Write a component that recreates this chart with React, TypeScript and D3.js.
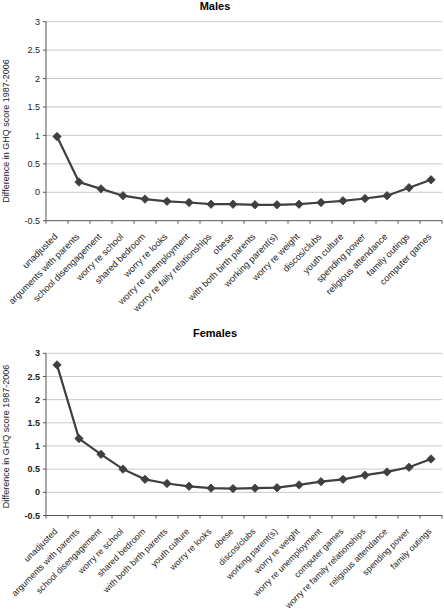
import React from "react";
import * as d3 from "d3";

const maleCategories = [
  "unadjusted", "arguments with parents", "school disengagement", "worry re school",
  "shared bedroom", "worry re looks", "worry re unemployment", "worry re faily relationships",
  "obese", "with both birth parents", "working parent(s)", "worry re weight",
  "discos/clubs", "youth culture", "spending power", "religious attendance",
  "family outings", "computer games",
];
const maleValues = [0.98, 0.18, 0.06, -0.06, -0.12, -0.16, -0.18, -0.21, -0.21, -0.22, -0.22, -0.21, -0.18, -0.15, -0.11, -0.06, 0.08, 0.22];

const femaleCategories = [
  "unadjusted", "arguments with parents", "school disengagement", "worry re school",
  "shared bedroom", "with both birth parents", "youth culture", "worry re looks",
  "obese", "discos/clubs", "working parent(s)", "worry re weight",
  "worry re unemployment", "computer games", "worry re family relationships",
  "religious attendance", "spending power", "family outings",
];
const femaleValues = [2.75, 1.16, 0.82, 0.5, 0.28, 0.19, 0.13, 0.09, 0.08, 0.09, 0.1, 0.16, 0.23, 0.28, 0.37, 0.44, 0.54, 0.72];

const yTicks = [-0.5, 0, 0.5, 1, 1.5, 2, 2.5, 3];
const yTitle = "Difference in GHQ score 1987-2006";

const FONT = "'Liberation Sans', Arial, sans-serif";

type PanelProps = {
  title: string;
  categories: string[];
  values: number[];
  top: number;
  bottom: number;
  titleY: number;
  yTitleCenter: number;
  boldTicks: boolean;
  labelSize: number;
};

function Panel({ title, categories, values, top, bottom, titleY, yTitleCenter, boldTicks, labelSize }: PanelProps) {
  const left = 46;
  const right = 442;
  const x = d3.scaleBand<string>().domain(categories).range([left, right]).padding(0);
  const y = d3.scaleLinear().domain([-0.5, 3]).range([bottom, top]);
  const pts = categories.map((c, i) => [x(c)! + x.bandwidth() / 2, y(values[i])] as [number, number]);
  const line = d3.line<[number, number]>()(pts) || "";
  const r = 4.2;
  const boundaries = categories.map((c) => x(c)!).concat([right]);
  return (
    <g>
      <text x={215} y={titleY} textAnchor="middle" fontFamily={FONT} fontWeight="bold" fontSize={11} fill="#000">
        {title}
      </text>
      {yTicks.map((t) => (
        <g key={t}>
          {t !== -0.5 && (
            <line x1={left} x2={right} y1={y(t)} y2={y(t)} stroke="#c8c8c8" strokeWidth={1} />
          )}
          <line x1={left - 3} x2={left} y1={y(t)} y2={y(t)} stroke="#555" strokeWidth={1} />
          <text
            x={left - 6}
            y={y(t)}
            dy="0.35em"
            textAnchor="end"
            fontFamily={FONT}
            fontSize={9}
            fontWeight={boldTicks ? "bold" : "normal"}
            fill="#222"
          >
            {t}
          </text>
        </g>
      ))}
      <line x1={left} x2={left} y1={top} y2={bottom} stroke="#555" strokeWidth={1} />
      <line x1={left} x2={right} y1={bottom} y2={bottom} stroke="#555" strokeWidth={1} />
      {boundaries.map((b, i) => (
        <line key={i} x1={b} x2={b} y1={bottom} y2={bottom + 3} stroke="#555" strokeWidth={1} />
      ))}
      {categories.map((c) => {
        const cx = x(c)! + x.bandwidth() / 2 + 1;
        const cy = bottom + 16.5;
        return (
          <text
            key={c}
            transform={`translate(${cx},${cy}) rotate(-45)`}
            textAnchor="end"
            fontFamily={FONT}
            fontSize={labelSize}
            fill="#222"
          >
            {c}
          </text>
        );
      })}
      <text
        transform={`translate(9,${yTitleCenter}) rotate(-90)`}
        textAnchor="middle"
        fontFamily={FONT}
        fontSize={9}
        fill="#222"
      >
        {yTitle}
      </text>
      <path d={line} fill="none" stroke="#3f3f3f" strokeWidth={2.2} />
      {pts.map(([px, py], i) => (
        <path
          key={i}
          d={`M${px},${py - r}L${px + r},${py}L${px},${py + r}L${px - r},${py}Z`}
          fill="#3f3f3f"
          stroke="#3f3f3f"
          strokeWidth={0.8}
        />
      ))}
    </g>
  );
}

export default function App() {
  return (
    <svg width={444} height={611} style={{ position: "absolute", left: 0, top: 0, background: "#fff" }}>
      <rect width={444} height={611} fill="#fff" />
      <Panel
        title="Males"
        categories={maleCategories}
        values={maleValues}
        top={21.7}
        bottom={220.7}
        titleY={10}
        yTitleCenter={131}
        boldTicks={false}
        labelSize={9.2}
      />
      <Panel
        title="Females"
        categories={femaleCategories}
        values={femaleValues}
        top={353.3}
        bottom={515.5}
        titleY={337}
        yTitleCenter={436.5}
        boldTicks={true}
        labelSize={8.8}
      />
    </svg>
  );
}
